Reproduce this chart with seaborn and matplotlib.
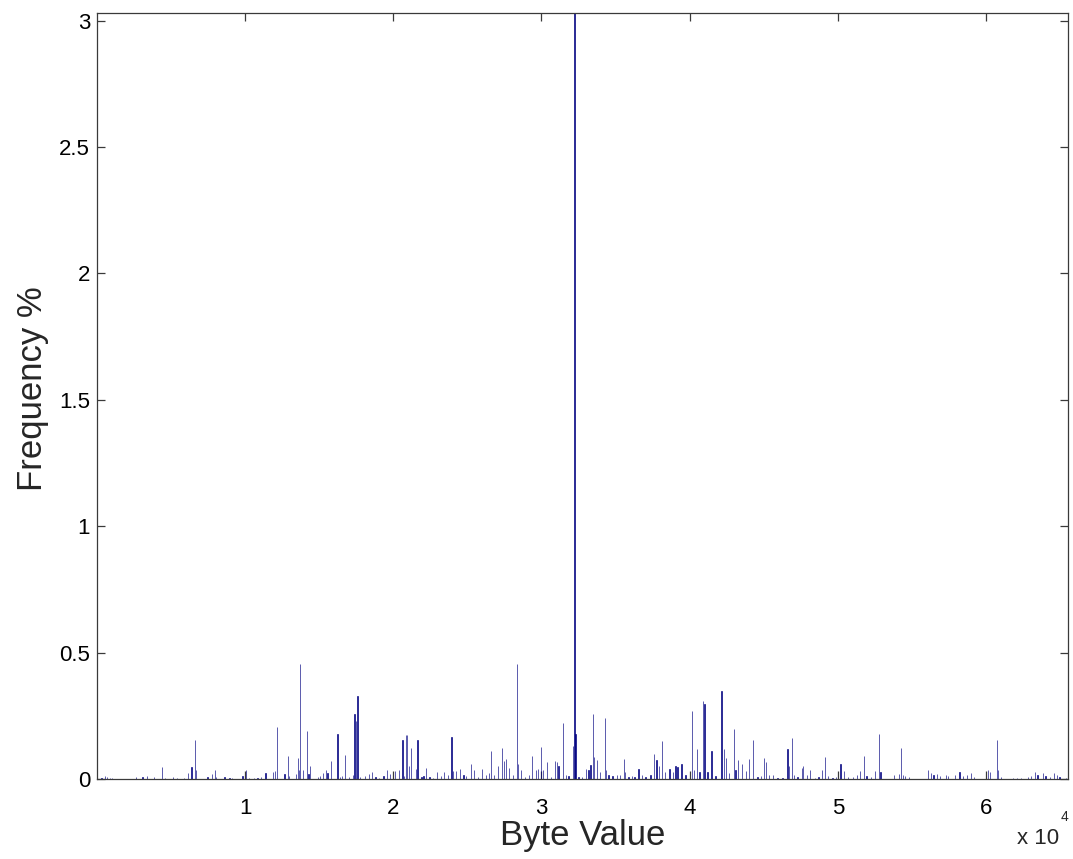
import numpy as np
import pandas as pd
import matplotlib
matplotlib.use("Agg")
import matplotlib.pyplot as plt
from matplotlib.ticker import FixedLocator, FixedFormatter
import seaborn as sns

# Byte values (16-bit symbols) that occur, and their share of all symbols in %
byte_value = [
    291, 541, 656, 859, 1035, 2618, 3065, 3363, 3857, 4398, 4580, 5142, 5393,
    5886, 6137, 6380, 6631, 6698, 7463, 7733, 7964, 8052, 8593, 8931, 9134,
    9811, 10034, 10284, 10623, 10846,
    11076, 11367, 11861, 12023, 12159, 12652, 12903, 12970, 13444, 13579,
    13647, 13715, 13891, 14189, 14276, 14391, 14906, 15041, 15244, 15447,
    15562, 15765, 16238, 16394, 16529, 16732, 16983, 17253, 17389, 17477,
    17572, 17775, 18065, 18336, 18559, 18789, 19012, 19330, 19554, 19757,
    20095, 20413, 20616, 20751, 20860, 20928, 21043, 21178, 21537, 21631,
    21902, 22037, 22192, 22443, 22687, 22957, 23187, 23431, 23702, 23932,
    24040, 24243, 24513, 24744, 24899, 25217, 25461, 25731, 25982, 26252,
    26455, 26570, 26773, 27044, 27315, 27470, 27585, 27829, 28079, 28330,
    28397, 28600, 28891, 29141, 29385, 29615, 29791, 29953, 30109, 30380,
    30650, 30941, 31056, 31144, 31442, 31645, 31821, 32139, 32227, 32295,
    32498, 32728, 32998, 33175, 33310, 33472, 33540, 33743, 33965, 34256,
    34351, 34527, 34798, 35095, 35319, 35542, 35657, 35881, 36110, 36286,
    36557, 36787, 37010, 37348, 37572, 37775, 37910, 38140, 38363, 38634,
    38857, 39040, 39175, 39446, 39716, 40170, 40306, 40482, 40665, 40915,
    41003, 41206, 41476, 41747, 42153, 42308, 42470, 42646, 43011, 43099,
    43282, 43506, 43777, 44000, 44298, 44589, 44812, 45015, 45130, 45353,
    45624, 45921, 46259, 46597, 46705, 46888, 47044, 47272, 47563, 47652,
    47902, 48105, 48465, 48694, 48917, 49140, 49323, 49642, 49865, 50183,
    50427, 50677, 50995, 51286, 51489, 51780, 51943, 52234, 52525, 52754,
    52889, 53810, 54148, 54284, 54378, 54554, 54825, 56090, 56273, 56449,
    56679, 56902, 57308, 57423, 57897, 58208, 58438, 58708, 58979, 59202,
    60150, 60285, 60759, 60826, 61029, 61821, 62091, 62382, 62856, 63059,
    63309, 63484, 63849, 64025, 64343, 64614, 64797, 64973, 65400,
]
frequency_pct = [
    0.005, 0.013, 0.008, 0.005, 0.004, 0.008, 0.009, 0.013, 0.008, 0.046,
    0.005, 0.008, 0.005, 0.005, 0.025, 0.046, 0.153, 0.034, 0.008, 0.021,
    0.034, 0.008, 0.008, 0.004, 0.005, 0.013, 0.037, 0.005, 0.005, 0.005,
    0.008, 0.024, 0.029, 0.032, 0.207, 0.021, 0.092, 0.013, 0.018, 0.083,
    0.037, 0.456, 0.037, 0.191, 0.021, 0.053, 0.008, 0.013, 0.024, 0.037,
    0.024, 0.071, 0.179, 0.008, 0.013, 0.096, 0.008, 0.016, 0.257, 0.228,
    0.327, 0.008, 0.013, 0.018, 0.029, 0.008, 0.005, 0.013, 0.037, 0.018,
    0.032, 0.034, 0.154, 0.013, 0.174, 0.174, 0.050, 0.124, 0.040, 0.153,
    0.008, 0.013, 0.045, 0.008, 0.005, 0.029, 0.013, 0.029, 0.017, 0.166,
    0.032, 0.032, 0.040, 0.016, 0.013, 0.058, 0.034, 0.008, 0.040, 0.016,
    0.024, 0.112, 0.016, 0.050, 0.124, 0.071, 0.079, 0.045, 0.017, 0.455,
    0.061, 0.037, 0.008, 0.017, 0.091, 0.037, 0.040, 0.128, 0.037, 0.066,
    0.008, 0.071, 0.066, 0.050, 0.223, 0.017, 0.013, 0.132, 3.450, 0.179,
    0.008, 0.008, 0.040, 0.037, 0.055, 0.258, 0.087, 0.076, 0.026, 0.240,
    0.037, 0.016, 0.013, 0.016, 0.016, 0.079, 0.026, 0.008, 0.013, 0.008,
    0.041, 0.016, 0.008, 0.016, 0.100, 0.076, 0.050, 0.149, 0.029, 0.040,
    0.029, 0.050, 0.047, 0.058, 0.016, 0.269, 0.037, 0.119, 0.029, 0.310,
    0.295, 0.029, 0.112, 0.013, 0.347, 0.119, 0.084, 0.024, 0.198, 0.037,
    0.074, 0.061, 0.032, 0.079, 0.153, 0.008, 0.013, 0.082, 0.066, 0.016,
    0.016, 0.005, 0.005, 0.119, 0.053, 0.161, 0.016, 0.008, 0.045, 0.053,
    0.016, 0.037, 0.005, 0.008, 0.037, 0.087, 0.013, 0.005, 0.008, 0.061,
    0.032, 0.008, 0.008, 0.016, 0.032, 0.092, 0.013, 0.008, 0.032, 0.179,
    0.029, 0.016, 0.018, 0.124, 0.016, 0.013, 0.008, 0.037, 0.024, 0.016,
    0.018, 0.013, 0.016, 0.013, 0.016, 0.029, 0.013, 0.016, 0.024, 0.008,
    0.037, 0.026, 0.153, 0.037, 0.008, 0.005, 0.005, 0.005, 0.008, 0.013,
    0.026, 0.016, 0.024, 0.013, 0.008, 0.024, 0.016, 0.008, 0.005,
]

x_ticks = [10000, 20000, 30000, 40000, 50000, 60000]
x_tick_labels = ["1", "2", "3", "4", "5", "6"]
y_ticks = [0, 0.5, 1, 1.5, 2, 2.5, 3]
y_tick_labels = ["0", "0.5", "1", "1.5", "2", "2.5", "3"]

sns.set_theme(style="ticks")
plt.rcParams["font.family"] = ["Liberation Sans", "DejaVu Sans"]

fig = plt.figure(figsize=(10.73, 8.59), dpi=100)
ax = fig.add_axes([97 / 1073, 80 / 859, 971 / 1073, 766 / 859])

df = pd.DataFrame({"byte": byte_value, "freq": frequency_pct})
bar_color = "#000080"
sns.histplot(
    data=df, x="byte", weights="freq", stat="count",
    bins=4096, binrange=(0, 65536),
    color=bar_color, edgecolor=bar_color, linewidth=0.45, alpha=1.0,
    ax=ax,
)

ax.set_xlim(0, 65536)
ax.set_ylim(0, 3.03)

ax.xaxis.set_major_locator(FixedLocator(x_ticks))
ax.xaxis.set_major_formatter(FixedFormatter(x_tick_labels))
ax.yaxis.set_major_locator(FixedLocator(y_ticks))
ax.yaxis.set_major_formatter(FixedFormatter(y_tick_labels))

frame_color = "#3a3a3a"
for side in ["left", "right", "top", "bottom"]:
    ax.spines[side].set_visible(True)
    ax.spines[side].set_color(frame_color)
    ax.spines[side].set_linewidth(0.9)

ax.tick_params(axis="both", which="major", direction="in", length=6,
               width=0.9, color=frame_color, labelsize=16, labelcolor="black",
               top=True, right=True)
ax.tick_params(axis="x", pad=14)
ax.tick_params(axis="y", pad=5)

ax.set_xlabel("Byte Value", fontsize=25, labelpad=0)
ax.set_ylabel("Frequency %", fontsize=25, labelpad=7)
ax.yaxis.label.set_y(0.51)

# exponent note for the x tick labels
ax.text(1059, 859 - 844.5, "x 10", transform=None, fontsize=16,
        ha="right", va="baseline")
ax.text(1061, 859 - 810, "4", transform=None, fontsize=10,
        ha="left", va="top")

fig.savefig("out.png", dpi=100, facecolor="white")
